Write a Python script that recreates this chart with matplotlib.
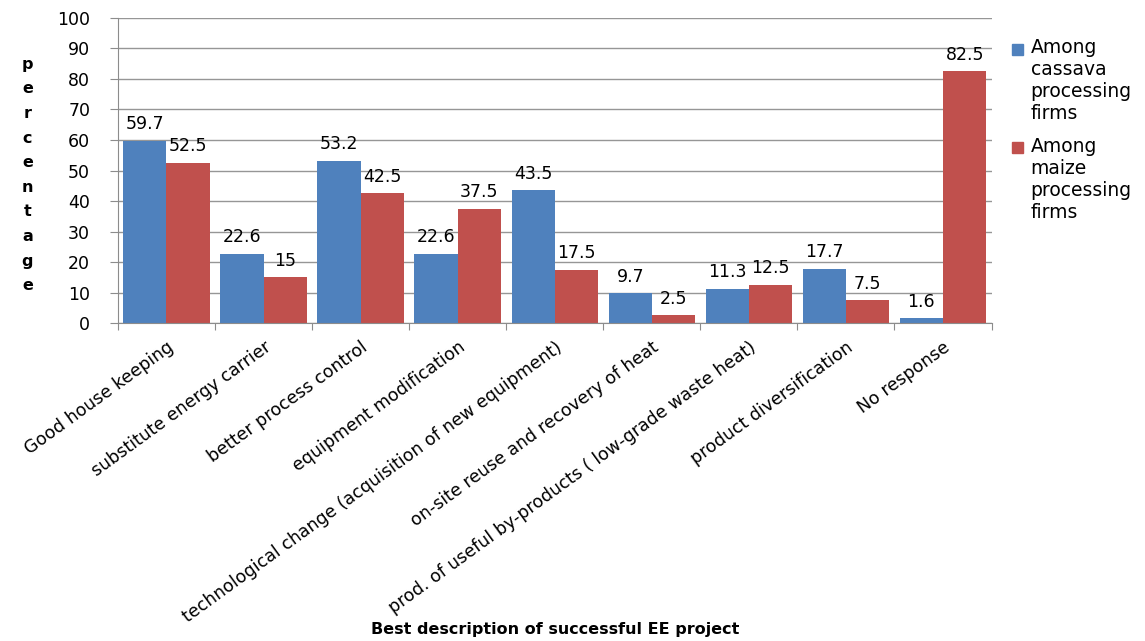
import numpy as np
import matplotlib
matplotlib.use("Agg")
import matplotlib.pyplot as plt
from matplotlib.patches import Rectangle

plt.rcParams['font.family'] = ['DejaVu Sans']

categories = ["Good house keeping", "substitute energy carrier", "better process control",
              "equipment modification", "technological change (acquisition of new equipment)",
              "on-site reuse and recovery of heat", "prod. of useful by-products ( low-grade waste heat)",
              "product diversification", "No response"]
cassava = [59.7, 22.6, 53.2, 22.6, 43.5, 9.7, 11.3, 17.7, 1.6]
maize = [52.5, 15, 42.5, 37.5, 17.5, 2.5, 12.5, 7.5, 82.5]
cassava_lbl = ["59.7", "22.6", "53.2", "22.6", "43.5", "9.7", "11.3", "17.7", "1.6"]
maize_lbl = ["52.5", "15", "42.5", "37.5", "17.5", "2.5", "12.5", "7.5", "82.5"]
series_names = ["Among\ncassava\nprocessing\nfirms", "Among\nmaize\nprocessing\nfirms"]

blue = "#4F81BD"
red = "#C0504D"

fig = plt.figure(figsize=(11.45, 6.41), dpi=100)
ax = fig.add_axes([0.103, 0.496, 0.763, 0.476])

x = np.arange(len(categories))
w = 0.445
ax.bar(x - w/2, cassava, w, color=blue)
ax.bar(x + w/2, maize, w, color=red)

for xi, v, t in zip(x, cassava, cassava_lbl):
    ax.text(xi - w/2, v + 2.5, t, ha='center', va='bottom', fontsize=12.5)
for xi, v, t in zip(x, maize, maize_lbl):
    ax.text(xi + w/2, v + 2.5, t, ha='center', va='bottom', fontsize=12.5)

ax.set_xlim(-0.5, len(categories) - 0.5)
ax.set_ylim(0, 100)
ax.set_yticks(range(0, 101, 10))
ax.yaxis.grid(True, color="#969696", linewidth=1)
ax.set_axisbelow(True)
for s in ['top', 'right']:
    ax.spines[s].set_visible(False)
ax.spines['left'].set_color("#8c8c8c")
ax.spines['bottom'].set_color("#8c8c8c")
ax.tick_params(axis='y', labelsize=12.5, color="#8c8c8c", length=6, pad=14)

# category ticks between groups, labels at centres
ax.set_xticks(np.arange(-0.5, len(categories), 1.0))
ax.set_xticklabels([])
ax.tick_params(axis='x', color="#8c8c8c", length=5)
for xi, c in zip(x, categories):
    ax.text(xi, -5, c, rotation=36, ha='right', va='top', rotation_mode='anchor',
            fontsize=12.5, transform=ax.transData)

fig.text(0.485, 0.018, "Best description of successful EE project",
         ha='center', va='center', fontsize=11.5, fontweight='bold')

fig.text(0.024, 0.727, "\n".join("percentage"), ha='center', va='center',
         fontsize=11.5, fontweight='bold', linespacing=1.8)

# legend, Excel style: marker next to first line of each entry
for i, (name, col) in enumerate(zip(series_names, [blue, red])):
    ytop = 0.94 - i * 0.153
    fig.patches.append(Rectangle((0.884, ytop - 0.026), 0.0095, 0.017,
                                 transform=fig.transFigure, color=col))
    fig.text(0.9, ytop, name, ha='left', va='top', fontsize=13.5, linespacing=1.2)

fig.savefig("out.png", dpi=100)
